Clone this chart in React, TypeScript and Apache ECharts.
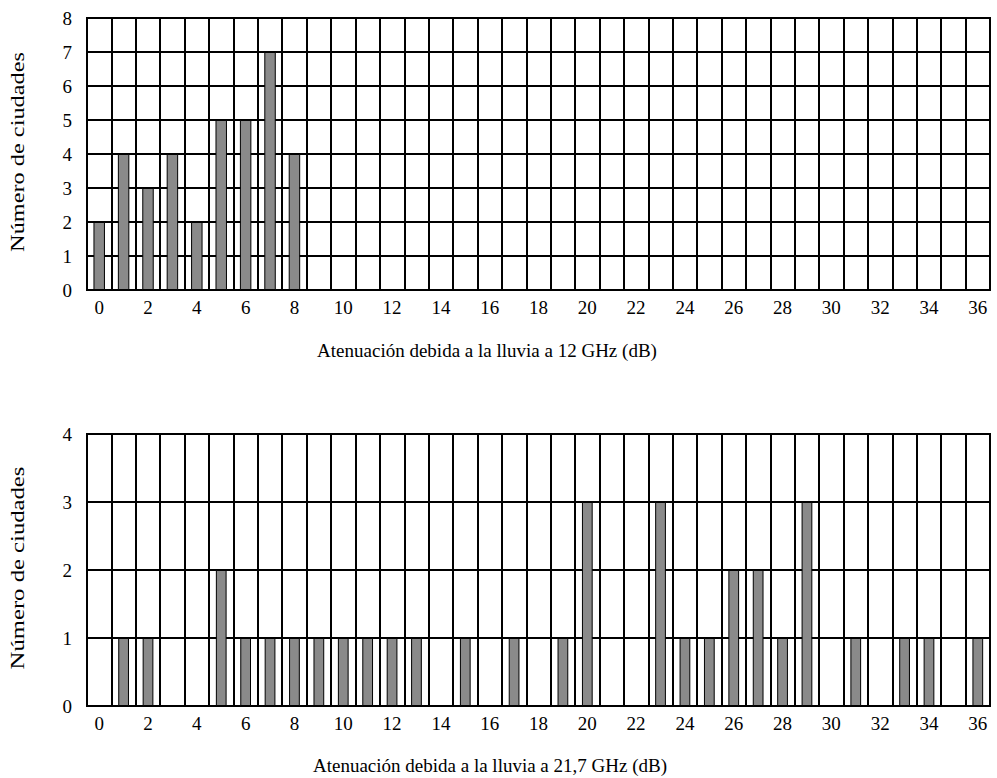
import React, { useEffect, useRef } from "react";
import * as echarts from "echarts";

const categories = [
  "0", "1", "2", "3", "4", "5", "6", "7", "8", "9", "10", "11", "12", "13", "14", "15", "16", "17", "18",
  "19", "20", "21", "22", "23", "24", "25", "26", "27", "28", "29", "30", "31", "32", "33", "34", "35", "36",
];

// Number of cities per attenuation value (dB) at 12 GHz
const counts12GHz = [
  2, 4, 3, 4, 2, 5, 5, 7, 4, 0, 0, 0, 0, 0, 0, 0, 0, 0, 0,
  0, 0, 0, 0, 0, 0, 0, 0, 0, 0, 0, 0, 0, 0, 0, 0, 0, 0,
];

// Number of cities per attenuation value (dB) at 21.7 GHz
const counts217GHz = [
  0, 1, 1, 0, 0, 2, 1, 1, 1, 1, 1, 1, 1, 1, 0, 1, 0, 1, 0,
  1, 3, 0, 0, 3, 1, 1, 2, 2, 1, 3, 0, 1, 0, 1, 1, 0, 1,
];

const yTitle = "Número de ciudades";
const xTitleTop = "Atenuación debida a la lluvia a 12 GHz (dB)";
const xTitleBottom = "Atenuación debida a la lluvia a 21,7 GHz (dB)";

const FONT = "Liberation Serif";
const FS = 19;

export default function App() {
  const ref = useRef<HTMLDivElement>(null);

  useEffect(() => {
    if (!ref.current) return;
    const chart = echarts.init(ref.current, undefined, { renderer: "svg" });

    const line = { color: "#000", width: 2 };
    const mkX = (gridIndex: number) => ({
      type: "category" as const,
      gridIndex,
      data: categories,
      boundaryGap: true,
      axisLine: { show: true, lineStyle: line },
      axisTick: { show: false },
      axisLabel: {
        interval: 1,
        color: "#000",
        fontFamily: FONT,
        fontSize: FS,
        margin: 8,
      },
      splitLine: { show: true, interval: 0, lineStyle: line },
    });
    const mkY = (gridIndex: number, max: number) => ({
      type: "value" as const,
      gridIndex,
      min: 0,
      max,
      interval: 1,
      axisLine: { show: true, lineStyle: line },
      axisTick: { show: false },
      axisLabel: {
        color: "#000",
        fontFamily: FONT,
        fontSize: FS,
        margin: 15,
      },
      splitLine: { show: true, lineStyle: line },
    });

    const barStyle = {
      color: "#8a8a8a",
      borderColor: "#000",
      borderWidth: 1,
    };

    const textStyle = (text: string) => ({
      text,
      fill: "#000",
      fontFamily: FONT,
      fontSize: FS,
      align: "center",
      verticalAlign: "middle",
    });

    chart.setOption({
      animation: false,
      backgroundColor: "#fff",
      textStyle: { fontFamily: FONT },
      grid: [
        { left: 87, top: 18, width: 903, height: 272, show: true, borderColor: "#000", borderWidth: 2 },
        { left: 87, top: 434, width: 903, height: 272, show: true, borderColor: "#000", borderWidth: 2 },
      ],
      xAxis: [mkX(0), mkX(1)],
      yAxis: [mkY(0, 8), mkY(1, 4)],
      series: [
        {
          type: "bar",
          xAxisIndex: 0,
          yAxisIndex: 0,
          data: counts12GHz,
          barWidth: "47%",
          itemStyle: barStyle,
        },
        {
          type: "bar",
          xAxisIndex: 1,
          yAxisIndex: 1,
          data: counts217GHz,
          barWidth: "44%",
          itemStyle: barStyle,
        },
      ],
      graphic: [
        { type: "text", x: 18, y: 152, rotation: Math.PI / 2, scaleX: 1.28, style: textStyle(yTitle) },
        { type: "text", x: 18, y: 568, rotation: Math.PI / 2, scaleX: 1.3, style: textStyle(yTitle) },
        { type: "text", x: 487, y: 350, style: textStyle(xTitleTop) },
        { type: "text", x: 490, y: 765, style: textStyle(xTitleBottom) },
      ],
    });

    return () => {
      chart.dispose();
    };
  }, []);

  return (
    <div
      ref={ref}
      style={{ position: "absolute", left: 0, top: 0, width: 997, height: 778, background: "#fff" }}
    />
  );
}
